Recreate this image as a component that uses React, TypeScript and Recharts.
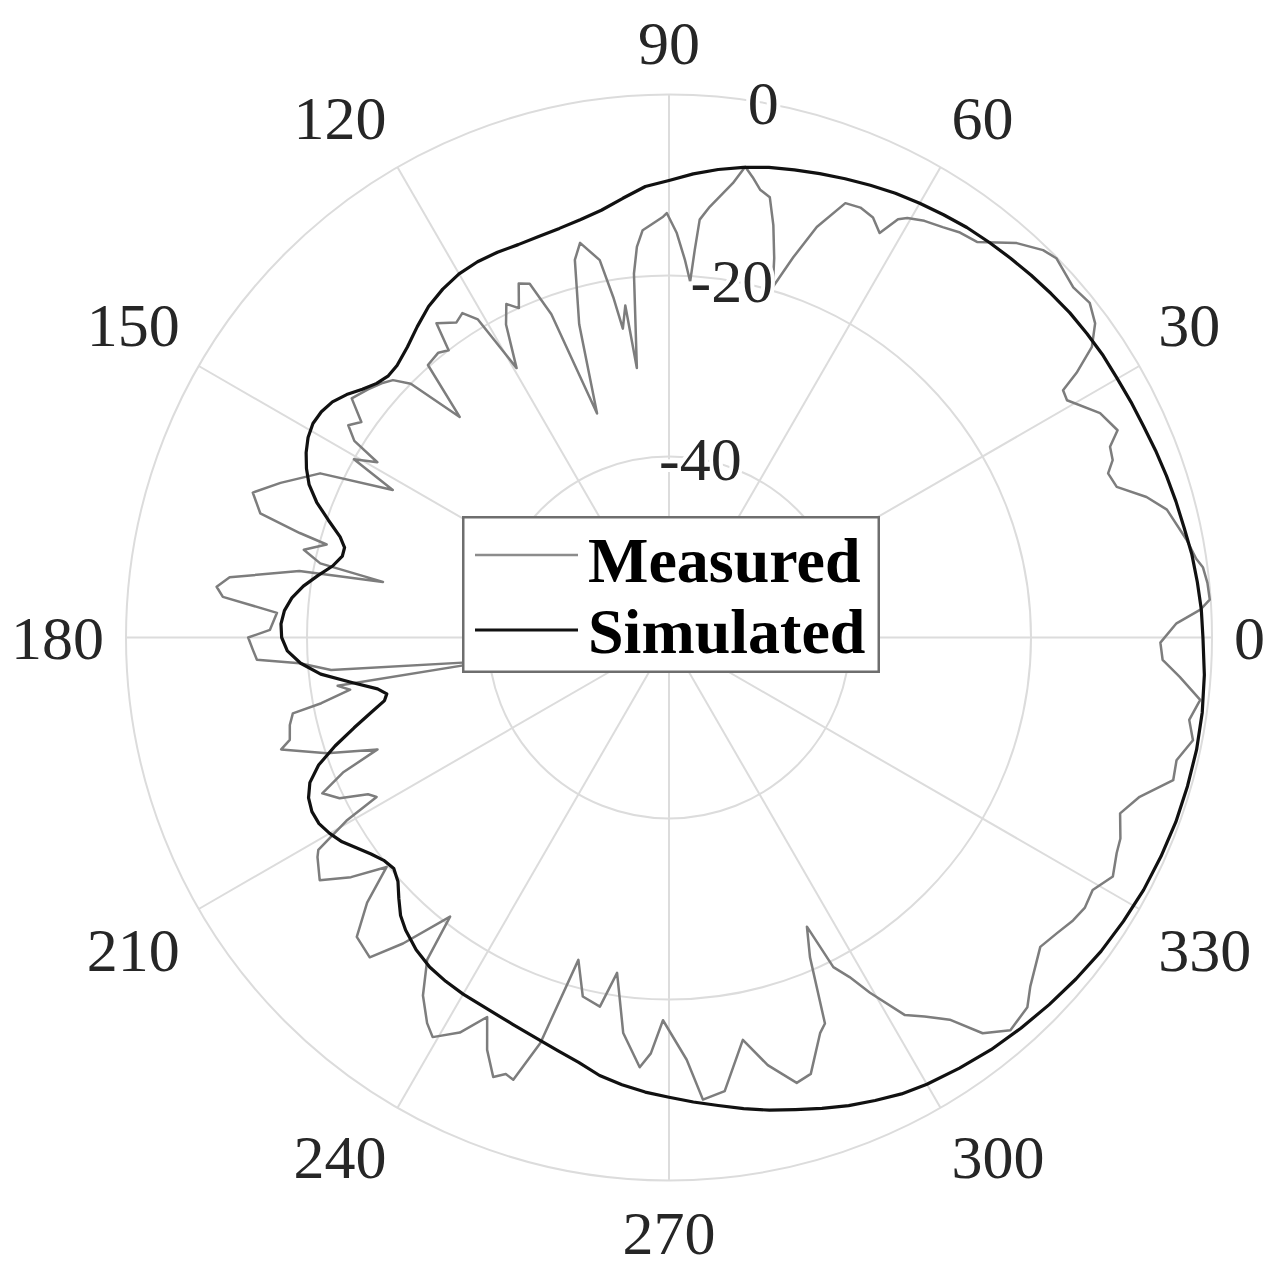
import React from 'react';
import { RadarChart, Radar, PolarGrid, PolarAngleAxis, PolarRadiusAxis, Legend } from 'recharts';

// ---- data (angle in degrees, level in dB) ----
const measuredAngles = [
  1.6, 3, 4, 5.8, 7.5, 8.5, 10.7, 14.4, 16.4, 18.6, 20.5, 21.8, 23.4, 24.8, 27.5, 30.8, 32.1, 33, 34.5, 36.4,
  38.5, 40.9, 44.4, 46, 48.6, 52.1, 54.3, 56.3, 58.5, 60.4, 61.3, 62.5, 64.1, 66, 67.9, 70.2, 71.9, 73.5, 74.5, 75.8,
  77.1, 78.5, 79.7, 80.8, 82, 84.6, 85.8, 86.2, 86.6, 87.6, 88.9, 90.3, 90.8, 92.6, 93.7, 94.7, 95.5, 96.8, 97.5, 98.5,
  99.3, 100.4, 102.7, 104, 106, 107.8, 110, 111.5, 113, 114.5, 116, 117.5, 119.5, 121, 122.5, 124, 126.5, 127.5, 129, 131.5,
  133.5, 135.5, 137, 138.5, 140.5, 143, 145, 146.5, 148, 149, 150.5, 151.9, 154.8, 158.3, 160.8, 163.1, 164.2, 164.8, 166.5, 168,
  169, 169.8, 172.2, 173.6, 174.8, 176.4, 178.9, 180, 181.7, 183.1, 184, 185.5, 187.5, 188.3, 189.3, 190.7, 191.4, 193, 195.1, 196.1,
  198.7, 201, 202.5, 204.2, 206, 207.5, 208.6, 209.6, 211.2, 212, 214.8, 217, 219.1, 221.3, 223.8, 226.9, 229, 231.9, 233.1, 235.5,
  237.9, 239.4, 242.1, 244.4, 246.2, 248.2, 249.5, 250.6, 252.4, 254.3, 256.5, 259.4, 261.2, 263.4, 266.1, 267.5, 269.1, 272.4, 274.2, 277,
  280.4, 283, 286, 288, 290.9, 292, 293.8, 295.5, 296.5, 298, 299.5, 302, 304, 306.3, 308.4, 311, 314.1, 316, 320.2, 322.7,
  325, 327, 329.2, 331.7, 334.3, 336, 338.7, 341.3, 344.2, 346.4, 348.9, 351, 353.3, 355.6, 357.4, 359.4,
];
const measuredDb = [
  -3.9, -1.2, -0.1, -0.2, -0.5, -1.1, -1.8, -3.2, -5.0, -7.8, -8.2, -7.2, -6.9, -5.4, -6.3, -8.8, -8.6, -6.3, -3.3, -1.5,
  -0.6, -0.9, -0.1, -0.5, -1.9, -4.6, -4.9, -5.5, -6.0, -6.7, -7.3, -9.6, -8.4, -8.0, -8.2, -11.8, -15.8, -19.6, -16.5, -13,
  -10.1, -9.5, -8.3, -7.3, -9.3, -12.2, -13.7, -17.1, -20.6, -18.2, -15.3, -13.1, -13.5, -14.4, -14.9, -16.7, -19.6, -30, -23, -25.5,
  -21.9, -17.6, -15.3, -17, -24, -34, -22, -18, -17.5, -20, -19, -21, -25.8, -19, -17.5, -18, -16.8, -20, -19.5, -19.8,
  -26.4, -20, -18.3, -17.6, -16.9, -16.1, -18.5, -17.5, -19, -22.4, -20, -25.4, -17.4, -13.8, -11.3, -12.8, -17.6, -20.8, -18.5, -20.6,
  -27.8, -18.5, -11, -9.7, -10.5, -16.6, -15.9, -13.5, -14, -14.4, -19.1, -22.5, -40, -23, -24.3, -20.9, -17.6, -17, -16.6, -15.4,
  -20.1, -25.5, -21, -18, -19.5, -22.5, -23.2, -19, -14.7, -14.2, -13, -16, -19.8, -15.6, -12.2, -11.6, -15.2, -20.8, -15.5, -12,
  -9.7, -8.7, -10.6, -13.5, -10.2, -7.7, -8.5, -8.2, -13, -23, -19.2, -18.5, -22.5, -16, -12.4, -14, -17.7, -13.3, -8.8, -9.5,
  -14.8, -11.5, -8.8, -9.3, -13.2, -14, -21.4, -24.6, -19.3, -17.5, -14.9, -10.8, -9.5, -7.6, -4.2, -2.5, -3.1, -4.5, -6.6, -6.1,
  -5.5, -5.2, -5.5, -4.3, -5.1, -5.4, -6.5, -5.1, -2.1, -2.3, -1.0, -1.8, -0.9, -3.4, -5.4, -5.7,
];
const simulatedAngles = [
  0, 3, 6, 9, 12, 15, 18, 21, 24, 27, 30, 33, 36, 39, 42, 45, 48, 51, 54, 57,
  60, 63, 66, 69, 72, 75, 78, 81, 84, 87, 90, 93, 96, 99, 102, 105, 108, 111, 114, 117,
  120, 123, 126, 129, 132, 135, 137, 139, 141, 143, 145, 147, 149, 151, 153, 155, 157, 159, 161, 163,
  164.5, 166, 168, 170, 172, 174, 176, 178, 180, 182, 184, 186, 188, 190, 191.3, 192.5, 194, 196, 198, 200,
  202, 204, 206, 208, 210, 212, 214, 216, 218, 220, 222, 224, 226, 228, 231, 234, 237, 240, 244, 248,
  252, 255, 258, 261, 264, 267, 270, 273, 276, 279, 282, 285, 288, 291, 294, 297, 300, 304, 308, 312,
  316, 320, 324, 328, 332, 336, 340, 344, 348, 352, 356,
];
const simulatedDb = [
  -1.0, -1.1, -1.3, -1.5, -1.8, -2.0, -2.2, -2.4, -2.6, -2.7, -2.8, -2.8, -2.9, -3.0, -3.2, -3.4, -3.6, -3.8, -4.0, -4.3,
  -4.6, -4.9, -5.3, -5.7, -6.1, -6.5, -6.9, -7.4, -8.0, -8.7, -9.5, -10.1, -11.2, -12.2, -12.8, -13.2, -13.4, -13.5, -13.4, -13.4,
  -13.6, -14.1, -14.8, -15.8, -16.8, -17.5, -17.6, -17.2, -16.4, -15.4, -14.6, -14.2, -14.1, -14.4, -15.0, -15.8, -16.8, -18.3, -20.2, -22.0,
  -22.8, -22.8, -22.0, -20.6, -19.2, -18.1, -17.4, -17.1, -17.2, -17.8, -19.2, -21.3, -24.5, -27.3, -28.2, -27.8, -26.2, -23.8, -21.2, -18.8,
  -17.2, -16.4, -16.1, -16.2, -16.7, -17.4, -18.4, -19.3, -20.0, -20.3, -19.7, -18.5, -17.3, -16.5, -15.6, -15.0, -14.7, -14.5, -14.3, -13.9,
  -13.3, -12.7, -12.0, -11.0, -10.3, -9.7, -9.2, -8.6, -8.0, -7.3, -6.6, -6.0, -5.3, -4.6, -4.0, -3.4, -3.0, -2.6, -2.2, -1.9,
  -1.6, -1.3, -1.0, -0.8, -0.6, -0.5, -0.4, -0.4, -0.4, -0.5, -0.7,
];
const angleTicks = [0, 30, 60, 90, 120, 150, 180, 210, 240, 270, 300, 330];
const radiusTicks = [-40, -20, 0];
const radiusDomain = [-60, 0];
const seriesNames = ['Measured', 'Simulated'];

// ---- one table per series, built from the arrays ----
const measuredData = measuredAngles.map((a, i) => ({ angle: a, measured: measuredDb[i] }));
const simulatedData = simulatedAngles.map((a, i) => ({ angle: a, simulated: simulatedDb[i] }));

const FONT = '"Liberation Serif", "Times New Roman", serif';
const TEXT_COLOR = '#262626';
const GRID_COLOR = '#dcdcdc';
const MEASURED_COLOR = '#7d7d7d';
const SIMULATED_COLOR = '#111111';
const TICK_FONT = 62;

const W = 1268;
const H = 1267;
const CX = 669;
const CY = 637.5;
const R = 543;

const AngleTick = (props: any) => {
  const { x, y, payload } = props;
  const deg = typeof payload.coordinate === 'number' ? payload.coordinate : payload.value;
  const rad = (deg * Math.PI) / 180;
  const c = Math.cos(rad);
  const s = Math.sin(rad);
  const label = String(payload.value);
  const w = label.length * TICK_FONT * 0.5;
  const h = 60;
  const hx = Math.abs(c) > 0.01 ? (Math.sign(c) * w) / 2 : 0;
  const hy = Math.abs(s) > 0.01 ? (-Math.sign(s) * h) / 2 : 0;
  return (
    <text
      x={x + hx}
      y={y + hy}
      textAnchor="middle"
      dominantBaseline="central"
      fontFamily={FONT}
      fontSize={TICK_FONT}
      fill={TEXT_COLOR}
    >
      {label}
    </text>
  );
};

const RadiusTick = (props: any) => {
  const { x, y, payload } = props;
  return (
    <text
      x={x}
      y={y}
      textAnchor="middle"
      dominantBaseline="central"
      fontFamily={FONT}
      fontSize={TICK_FONT}
      fill={TEXT_COLOR}
      stroke="#ffffff"
      strokeWidth={8}
      paintOrder="stroke"
    >
      {String(payload.value)}
    </text>
  );
};

const LegendBox = () => {
  const colors = ['#8c8c8c', SIMULATED_COLOR];
  const widths = [2.5, 3.2];
  const lineY = [39, 114];
  const textY = [66, 137];
  return (
    <svg width={418} height={157} style={{ display: 'block' }}>
      <rect x={1.25} y={1.25} width={415.5} height={154.5} fill="#ffffff" stroke="#6e6e6e" strokeWidth={2.5} />
      {seriesNames.map((name, i) => (
        <g key={name}>
          <line x1={13} x2={116} y1={lineY[i]} y2={lineY[i]} stroke={colors[i]} strokeWidth={widths[i]} />
          <text x={126} y={textY[i]} fontFamily={FONT} fontWeight="bold" fontSize={64} fill="#000000">
            {name}
          </text>
        </g>
      ))}
    </svg>
  );
};

const layer: React.CSSProperties = { position: 'absolute', left: 0, top: 0, width: W, height: H };

export default function App() {
  return (
    <div style={layer}>
      <div style={layer}>
        <RadarChart
          width={W}
          height={H}
          data={measuredData}
          cx={CX}
          cy={CY}
          outerRadius={R}
          startAngle={0}
          endAngle={360}
          margin={{ top: 0, right: 0, bottom: 0, left: 0 }}
        >
          <PolarGrid gridType="circle" stroke={GRID_COLOR} strokeWidth={2} />
          <PolarAngleAxis
            dataKey="angle"
            type="number"
            domain={[0, 360]}
            ticks={angleTicks}
            tick={<AngleTick />}
            tickSize={22}
            tickLine={false}
            axisLine={false}
          />
          <PolarRadiusAxis
            type="number"
            domain={radiusDomain}
            ticks={radiusTicks}
            angle={80}
            axisLine={false}
            tickLine={false}
            tick={<RadiusTick />}
          />
          <Radar
            name={seriesNames[0]}
            dataKey="measured"
            stroke={MEASURED_COLOR}
            strokeWidth={2.5}
            strokeLinejoin="round"
            fill="none"
            fillOpacity={0}
            dot={false}
            isAnimationActive={false}
          />
        </RadarChart>
      </div>
      <div style={layer}>
        <RadarChart
          width={W}
          height={H}
          data={simulatedData}
          cx={CX}
          cy={CY}
          outerRadius={R}
          startAngle={0}
          endAngle={360}
          margin={{ top: 0, right: 0, bottom: 0, left: 0 }}
        >
          <PolarAngleAxis
            dataKey="angle"
            type="number"
            domain={[0, 360]}
            ticks={angleTicks}
            tick={false}
            tickLine={false}
            axisLine={false}
          />
          <PolarRadiusAxis
            type="number"
            domain={radiusDomain}
            ticks={radiusTicks}
            angle={80}
            axisLine={false}
            tickLine={false}
            tick={false}
          />
          <Radar
            name={seriesNames[1]}
            dataKey="simulated"
            stroke={SIMULATED_COLOR}
            strokeWidth={3.2}
            strokeLinejoin="round"
            fill="none"
            fillOpacity={0}
            dot={false}
            isAnimationActive={false}
          />
          <Legend
            layout="vertical"
            align="center"
            verticalAlign="middle"
            content={<LegendBox />}
            wrapperStyle={{ left: 462, top: 516, width: 418, height: 157 }}
          />
        </RadarChart>
      </div>
    </div>
  );
}
